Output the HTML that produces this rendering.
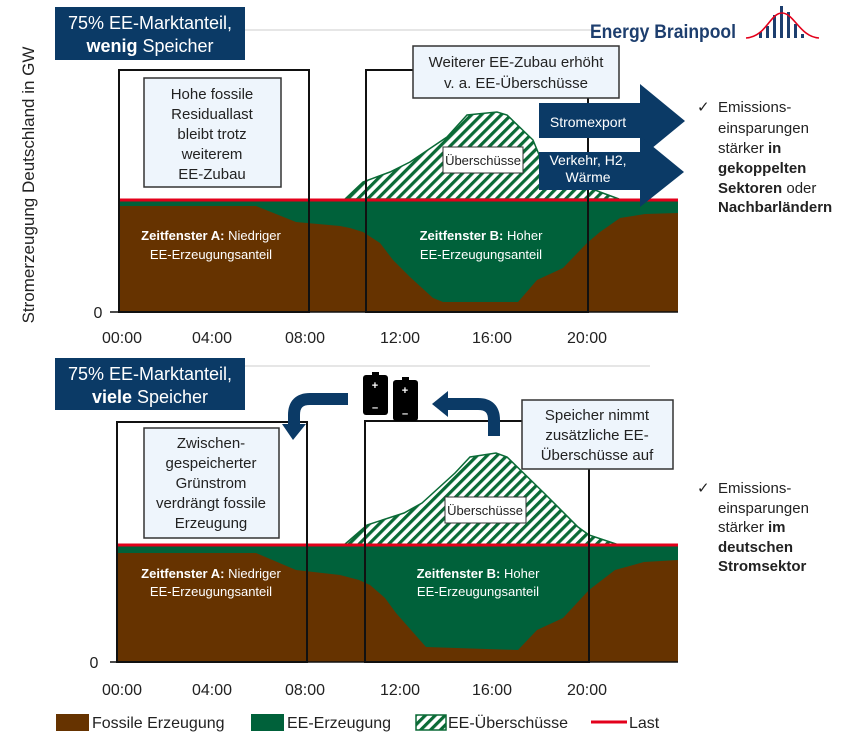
<!DOCTYPE html>
<html><head><meta charset="utf-8"><style>
html,body{margin:0;padding:0;background:#fff;}
svg{display:block;font-family:"Liberation Sans","DejaVu Sans",sans-serif;}
</style></head><body>
<svg width="841" height="750" viewBox="0 0 841 750" xmlns="http://www.w3.org/2000/svg">
<defs>
<pattern id="h" patternUnits="userSpaceOnUse" width="7" height="7" patternTransform="rotate(45)">
<rect width="7" height="7" fill="#fff"/><rect width="3.2" height="7" fill="#0a6a36"/>
</pattern>
</defs>
<line x1="245" y1="30" x2="600" y2="30" stroke="#ddd" stroke-width="1.5"/>
<line x1="245" y1="366" x2="650" y2="366" stroke="#ddd" stroke-width="1.5"/>

<text transform="translate(34,185) rotate(-90)" text-anchor="middle" font-size="17" fill="#222">Stromerzeugung Deutschland in GW</text>

<!-- TOP CHART -->
<polygon points="345,199 363,182 390,172 410,162 447,137 467,115 497,112 507,115 533,140 540,157 583,185 600,192 619,199" fill="url(#h)" stroke="#0a6a36" stroke-width="1.5"/>
<rect x="118" y="200" width="560" height="112" fill="#00613a"/>
<polygon points="118,206 256,206 296,222 340,226 350,228 363,232 380,243 393,260 410,277 433,298 443,302 518,302 537,280 563,268 587,243 600,232 620,218 645,214 678,213 678,312 118,312" fill="#663300"/>
<line x1="118" y1="200" x2="678" y2="200" stroke="#e3001b" stroke-width="3"/>
<rect x="119" y="70" width="190" height="242" fill="none" stroke="#111" stroke-width="2"/>
<rect x="366" y="70" width="222" height="242" fill="none" stroke="#111" stroke-width="2"/>
<line x1="110" y1="312" x2="678" y2="312" stroke="#111" stroke-width="1.5"/>
<text x="98" y="318" font-size="16" fill="#222" text-anchor="middle">0</text>
<g font-size="16" fill="#222" text-anchor="middle">
<text x="122" y="343">00:00</text><text x="212" y="343">04:00</text><text x="305" y="343">08:00</text><text x="400" y="343">12:00</text><text x="492" y="343">16:00</text><text x="587" y="343">20:00</text>
</g>
<g font-size="13" fill="#fff" text-anchor="middle">
<text x="211" y="240"><tspan font-weight="bold">Zeitfenster A:</tspan> Niedriger</text>
<text x="211" y="259">EE-Erzeugungsanteil</text>
<text x="481" y="240"><tspan font-weight="bold">Zeitfenster B:</tspan> Hoher</text>
<text x="481" y="259">EE-Erzeugungsanteil</text>
</g>
<rect x="443" y="147" width="80" height="26" fill="#fff" stroke="#333" stroke-width="1"/>
<text x="483" y="165" font-size="13" text-anchor="middle" fill="#222">Überschüsse</text>
<rect x="144" y="78" width="137" height="109" fill="#eef5fc" stroke="#333" stroke-width="1.5"/>
<g font-size="15" fill="#222" text-anchor="middle">
<text x="212" y="99">Hohe fossile</text><text x="212" y="119">Residuallast</text><text x="212" y="139">bleibt trotz</text><text x="212" y="159">weiterem</text><text x="212" y="179">EE-Zubau</text>
</g>
<rect x="413" y="46" width="206" height="52" fill="#eef5fc" stroke="#333" stroke-width="1.5"/>
<g font-size="15" fill="#222" text-anchor="middle">
<text x="516" y="67">Weiterer EE-Zubau erhöht</text><text x="516" y="88">v. a. EE-Überschüsse</text>
</g>
<polygon points="539,103 640,103 640,84 685,121 640,158 640,138 539,138" fill="#0b3a66"/>
<polygon points="539,152 640,152 640,136 684,172 640,207 640,190 539,190" fill="#0b3a66"/>
<text x="588" y="127" font-size="14" fill="#fff" text-anchor="middle">Stromexport</text>
<text x="588" y="165" font-size="14" fill="#fff" text-anchor="middle">Verkehr, H2,</text>
<text x="588" y="182" font-size="14" fill="#fff" text-anchor="middle">Wärme</text>

<rect x="55" y="7" width="190" height="53" fill="#0b3a66"/>
<text x="150" y="29" font-size="18" fill="#fff" text-anchor="middle">75% EE-Marktanteil,</text>
<text x="150" y="52" font-size="18" fill="#fff" text-anchor="middle"><tspan font-weight="bold">wenig</tspan> Speicher</text>
<rect x="55" y="358" width="190" height="52" fill="#0b3a66"/>
<text x="150" y="380" font-size="18" fill="#fff" text-anchor="middle">75% EE-Marktanteil,</text>
<text x="150" y="403" font-size="18" fill="#fff" text-anchor="middle"><tspan font-weight="bold">viele</tspan> Speicher</text>

<!-- logo -->
<text x="590" y="38" font-size="19" font-weight="bold" fill="#1d3e6e" textLength="146" lengthAdjust="spacingAndGlyphs">Energy Brainpool</text>
<g fill="#1d3e6e">
<rect x="759" y="32" width="3" height="6"/><rect x="766" y="26" width="3" height="12"/><rect x="773" y="15" width="3" height="23"/><rect x="780" y="6" width="3" height="32"/><rect x="787" y="12" width="3" height="26"/><rect x="794" y="24" width="3" height="14"/><rect x="801" y="34" width="3" height="4"/>
</g>
<path d="M746,38 C766,37 770,13 782,13 C794,13 800,37 819,38" fill="none" stroke="#e3001b" stroke-width="1.6"/>

<g font-size="15" fill="#222">
<text x="697" y="112">✓</text>
<text x="718" y="112">Emissions-</text>
<text x="718" y="133">einsparungen</text>
<text x="718" y="153">stärker <tspan font-weight="bold">in</tspan></text>
<text x="718" y="173" font-weight="bold">gekoppelten</text>
<text x="718" y="193"><tspan font-weight="bold">Sektoren</tspan> oder</text>
<text x="718" y="212" font-weight="bold">Nachbarländern</text>
<text x="697" y="493">✓</text>
<text x="718" y="493">Emissions-</text>
<text x="718" y="513">einsparungen</text>
<text x="718" y="532">stärker <tspan font-weight="bold">im</tspan></text>
<text x="718" y="552" font-weight="bold">deutschen</text>
<text x="718" y="571" font-weight="bold">Stromsektor</text>
</g>

<!-- BOTTOM CHART -->
<polygon points="344,545 367,525 404,513 422,503 455,473 470,457 496,453 507,457 544,493 578,527 589,535 619,545" fill="url(#h)" stroke="#0a6a36" stroke-width="1.5"/>
<rect x="118" y="545" width="560" height="117" fill="#00613a"/>
<polygon points="118,553 256,553 296,570 340,575 359,580 370,585 385,598 396,613 426,647 518,650 537,630 563,618 589,590 615,570 644,562 678,560 678,662 118,662" fill="#663300"/>
<line x1="118" y1="545" x2="678" y2="545" stroke="#e3001b" stroke-width="3"/>
<rect x="117" y="422" width="190" height="240" fill="none" stroke="#111" stroke-width="2"/>
<rect x="365" y="421" width="224" height="241" fill="none" stroke="#111" stroke-width="2"/>
<line x1="110" y1="662" x2="678" y2="662" stroke="#111" stroke-width="1.5"/>
<text x="94" y="668" font-size="16" fill="#222" text-anchor="middle">0</text>
<g font-size="16" fill="#222" text-anchor="middle">
<text x="122" y="695">00:00</text><text x="212" y="695">04:00</text><text x="305" y="695">08:00</text><text x="400" y="695">12:00</text><text x="492" y="695">16:00</text><text x="587" y="695">20:00</text>
</g>
<g font-size="13" fill="#fff" text-anchor="middle">
<text x="211" y="578"><tspan font-weight="bold">Zeitfenster A:</tspan> Niedriger</text>
<text x="211" y="596">EE-Erzeugungsanteil</text>
<text x="478" y="578"><tspan font-weight="bold">Zeitfenster B:</tspan> Hoher</text>
<text x="478" y="596">EE-Erzeugungsanteil</text>
</g>
<rect x="445" y="497" width="81" height="26" fill="#fff" stroke="#333" stroke-width="1"/>
<text x="485" y="515" font-size="13" text-anchor="middle" fill="#222">Überschüsse</text>
<rect x="144" y="428" width="135" height="110" fill="#eef5fc" stroke="#333" stroke-width="1.5"/>
<g font-size="15" fill="#222" text-anchor="middle">
<text x="211" y="448">Zwischen-</text><text x="211" y="468">gespeicherter</text><text x="211" y="488">Grünstrom</text><text x="211" y="508">verdrängt fossile</text><text x="211" y="528">Erzeugung</text>
</g>
<rect x="522" y="400" width="151" height="69" fill="#eef5fc" stroke="#333" stroke-width="1.5"/>
<g font-size="15" fill="#222" text-anchor="middle">
<text x="597" y="420">Speicher nimmt</text><text x="597" y="440">zusätzliche EE-</text><text x="597" y="460">Überschüsse auf</text>
</g>
<rect x="363" y="375" width="25" height="40" rx="3" fill="#000"/><rect x="372" y="372" width="7" height="4" fill="#000"/>
<rect x="393" y="380" width="25" height="41" rx="3" fill="#000"/><rect x="402" y="377" width="7" height="4" fill="#000"/>
<g fill="#fff" font-size="11" font-weight="bold" text-anchor="middle">
<text x="375" y="389">+</text><text x="375" y="411">–</text><text x="405" y="394">+</text><text x="405" y="417">–</text>
</g>
<path d="M348,399 L310,399 Q294,399 294,415 L294,426" fill="none" stroke="#0b3a66" stroke-width="12"/>
<polygon points="282,424 306,424 293,440" fill="#0b3a66"/>
<path d="M494,436 L494,420 Q494,404 478,404 L446,404" fill="none" stroke="#0b3a66" stroke-width="12"/>
<polygon points="448,391 448,417 432,404" fill="#0b3a66"/>

<rect x="56" y="714" width="33" height="17" fill="#663300"/>
<text x="92" y="728" font-size="16" fill="#222">Fossile Erzeugung</text>
<rect x="251" y="714" width="33" height="17" fill="#00613a"/>
<text x="287" y="728" font-size="16" fill="#222">EE-Erzeugung</text>
<rect x="416" y="715" width="30" height="15" fill="url(#h)" stroke="#0a6a36" stroke-width="1.5"/>
<text x="448" y="728" font-size="16" fill="#222">EE-Überschüsse</text>
<line x1="591" y1="722" x2="627" y2="722" stroke="#e3001b" stroke-width="3"/>
<text x="629" y="728" font-size="16" fill="#222">Last</text>
</svg>
</body></html>
